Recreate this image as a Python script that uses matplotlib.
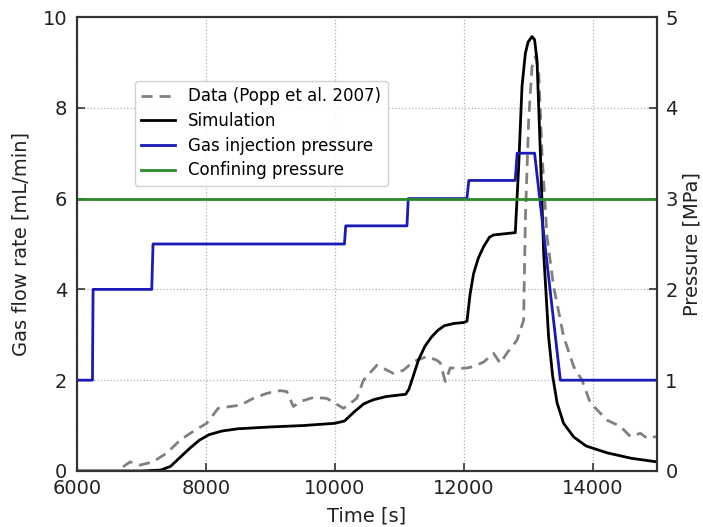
import matplotlib
matplotlib.use("Agg")
import matplotlib.pyplot as plt

# Simulation (mL/min)
sim_t = [6000, 7000, 7300, 7450, 7600, 7750, 7900, 8050, 8250, 8500, 9000, 9500, 10000, 10150,
         10300, 10450, 10600, 10800, 11100, 11150, 11220, 11300, 11400, 11500, 11600, 11700, 11850,
         12000, 12051, 12100, 12154, 12230, 12309, 12400, 12465, 12600, 12801, 12853, 12905, 12957,
         13000, 13060, 13100, 13138, 13190, 13241, 13318, 13380, 13449, 13550, 13707, 13900, 14225,
         14600, 15000]
sim_v = [0.0, 0.0, 0.02, 0.1, 0.3, 0.5, 0.68, 0.8, 0.88, 0.93, 0.97, 1.0, 1.05, 1.1,
         1.3, 1.48, 1.57, 1.64, 1.69, 1.8, 2.1, 2.45, 2.75, 2.95, 3.1, 3.2, 3.25,
         3.27, 3.3, 3.9, 4.35, 4.7, 4.94, 5.15, 5.2, 5.22, 5.25, 6.7, 8.47, 9.2,
         9.45, 9.57, 9.5, 9.05, 7.0, 4.8, 2.95, 2.1, 1.5, 1.05, 0.75, 0.55, 0.4,
         0.28, 0.2]

# Data (Popp et al. 2007) (mL/min)
dat_t = [6714, 6823, 6978, 7180, 7398, 7600, 7800, 8013, 8190, 8376, 8531, 8737, 8945, 9152,
         9255, 9359, 9462, 9670, 9876, 10135, 10342, 10445, 10653, 10910, 11066, 11221, 11428,
         11584, 11637, 11714, 11792, 11946, 12051, 12154, 12309, 12465, 12568, 12672, 12827,
         12930, 12957, 13008, 13060, 13112, 13163, 13215, 13293, 13396, 13551, 13707, 13836,
         13965, 14225, 14432, 14587, 14742, 14846, 15000]
dat_v = [0.09, 0.2, 0.13, 0.2, 0.4, 0.68, 0.87, 1.05, 1.38, 1.42, 1.45, 1.6, 1.71, 1.77,
         1.75, 1.42, 1.53, 1.62, 1.6, 1.38, 1.6, 2.0, 2.33, 2.15, 2.22, 2.41, 2.52,
         2.44, 2.38, 1.97, 2.27, 2.26, 2.27, 2.3, 2.4, 2.59, 2.37, 2.6, 2.88,
         3.32, 5.53, 7.73, 8.9, 9.13, 8.83, 7.0, 5.16, 4.06, 2.96, 2.3, 2.0,
         1.5, 1.12, 0.98, 0.76, 0.83, 0.72, 0.76]

# Gas injection pressure (MPa)
inj_t = [6000, 6240, 6250, 7160, 7180, 10150, 10170, 11120, 11140, 12050, 12080, 12800, 12830,
         13100, 13500, 15000]
inj_p = [1.0, 1.0, 2.0, 2.0, 2.5, 2.5, 2.7, 2.7, 3.0, 3.0, 3.2, 3.2, 3.5, 3.5, 1.0, 1.0]

# Confining pressure (MPa)
conf_t = [6000, 15000]
conf_p = [3.0, 3.0]

x_ticks = [6000, 8000, 10000, 12000, 14000]
y_ticks = [0, 2, 4, 6, 8, 10]
p_ticks = [0, 1, 2, 3, 4, 5]

plt.rcParams['font.family'] = ['DejaVu Sans']
fig = plt.figure(figsize=(7.03, 5.27), dpi=100)
ax = fig.add_axes([0.1095, 0.1063, 0.8251, 0.8614])
ax2 = ax.twinx()

h1, = ax.plot(dat_t, dat_v, color='#808080', lw=2, ls=(0, (4, 2.5)), label='Data (Popp et al. 2007)', zorder=3)
h2, = ax.plot(sim_t, sim_v, color='black', lw=2, label='Simulation', zorder=4)
h3, = ax2.plot(inj_t, inj_p, color='#1a1ab4', lw=2, label='Gas injection pressure')
h4, = ax2.plot(conf_t, conf_p, color='#2a8a2a', lw=2, label='Confining pressure')

ax.set_xlim(6000, 15000)
ax.set_ylim(0, 10)
ax2.set_ylim(0, 5)
ax.set_xticks(x_ticks)
ax.set_yticks(y_ticks)
ax2.set_yticks(p_ticks)
ax.grid(True, ls=':', color='#b0b0b0', lw=0.9)
ax.tick_params(axis='y', direction='in', labelsize=14, length=6, width=1.2, colors='#333333',
               labelcolor='#222222', pad=7)
ax.tick_params(axis='x', direction='in', labelsize=14, length=6, width=1.2, colors='#333333',
               labelcolor='#222222', pad=6)
ax2.tick_params(direction='in', labelsize=14, length=6, width=1.2, colors='#333333',
                labelcolor='#222222', pad=6)
for a in (ax, ax2):
    for s in a.spines.values():
        s.set_linewidth(1.5)
        s.set_color('#333333')

ax.set_xlabel('Time [s]', fontsize=14, color='#222222', labelpad=6)
ax.set_ylabel('Gas flow rate [mL/min]', fontsize=14, color='#222222', labelpad=9)
ax2.set_ylabel('Pressure [MPa]', fontsize=14, color='#222222', labelpad=3)

leg = ax2.legend(handles=[h1, h2, h3, h4], loc='upper left', bbox_to_anchor=(0.085, 0.878),
                 fontsize=12, frameon=True, fancybox=True, framealpha=0.9, edgecolor='#cccccc',
                 handlelength=2.0, labelspacing=0.4)

fig.savefig('out.png', dpi=100)
